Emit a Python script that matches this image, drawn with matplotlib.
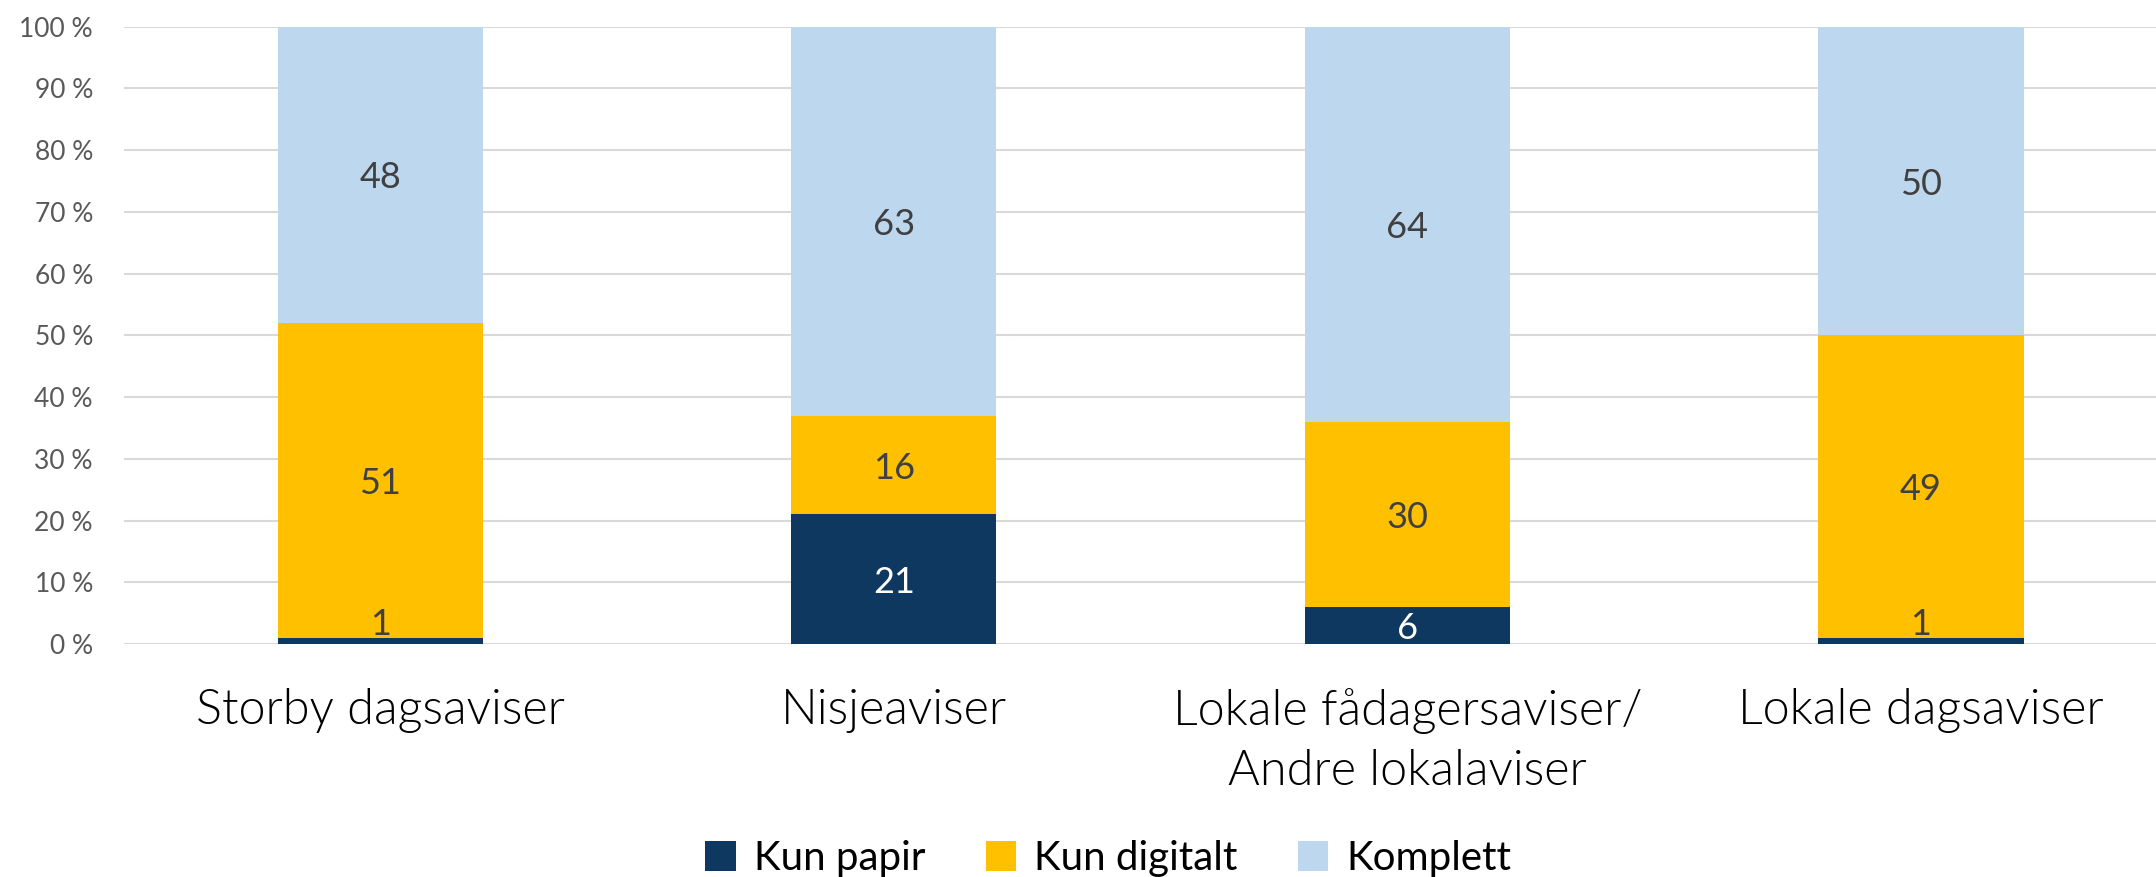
import matplotlib
matplotlib.use("Agg")
import matplotlib.pyplot as plt
from matplotlib.patches import Patch
import numpy as np

plt.rcParams["font.family"] = ["Lato", "DejaVu Sans"]

categories = ["Storby dagsaviser", "Nisjeaviser",
              "Lokale fådagersaviser/\nAndre lokalaviser", "Lokale dagsaviser"]
series = ["Kun papir", "Kun digitalt", "Komplett"]
kun_papir = [1, 21, 6, 1]
kun_digitalt = [51, 16, 30, 49]
komplett = [48, 63, 64, 50]
yticks = list(range(0, 101, 10))

colors = ["#0e3860", "#ffc000", "#bdd7ee"]
label_colors = ["white", "#404040", "#404040"]

fig = plt.figure(figsize=(21.56, 8.77), dpi=100)
ax = fig.add_axes([0.0573, 0.2657, 0.9527, 0.7039])

x = np.arange(len(categories))
bottom = np.zeros(len(categories))
for vals, col, lcol in zip([kun_papir, kun_digitalt, komplett], colors, label_colors):
    vals = np.array(vals, dtype=float)
    ax.bar(x, vals, 0.4, bottom=bottom, color=col, zorder=3)
    for xi, b, v in zip(x, bottom, vals):
        if v < 4:
            ax.text(xi, b + v + 0.4, f"{int(v)}", ha="center", va="baseline",
                    fontsize=26, color="#404040", zorder=4)
        else:
            ax.text(xi, b + v / 2 - 0.5, f"{int(v)}", ha="center", va="center",
                    fontsize=26, color=lcol, zorder=4)
    bottom += vals

ax.set_xlim(-0.5, 3.5)
ax.set_ylim(0, 100)
ax.set_yticks(yticks)
ax.set_yticklabels([f"{t} %" for t in yticks], fontsize=19, color="#595959")
ax.yaxis.grid(True, color="#d9d9d9", lw=1.5, zorder=0)
ax.tick_params(axis="y", length=0, pad=22)
ax.set_xticks(x)
ax.set_xticklabels(categories, fontsize=35, fontweight=300, color="black",
                   linespacing=1.4)
ax.tick_params(axis="x", length=0, pad=32)
for s in ax.spines.values():
    s.set_visible(False)

handles = [Patch(facecolor=c, edgecolor="none") for c in colors]
fig.legend(handles, series, loc="center", bbox_to_anchor=(0.514, 0.021), ncol=3,
           frameon=False, fontsize=29, handlelength=0.75, handleheight=0.75,
           handletextpad=0.45, columnspacing=1.5)

fig.savefig("out.png", dpi=100)
